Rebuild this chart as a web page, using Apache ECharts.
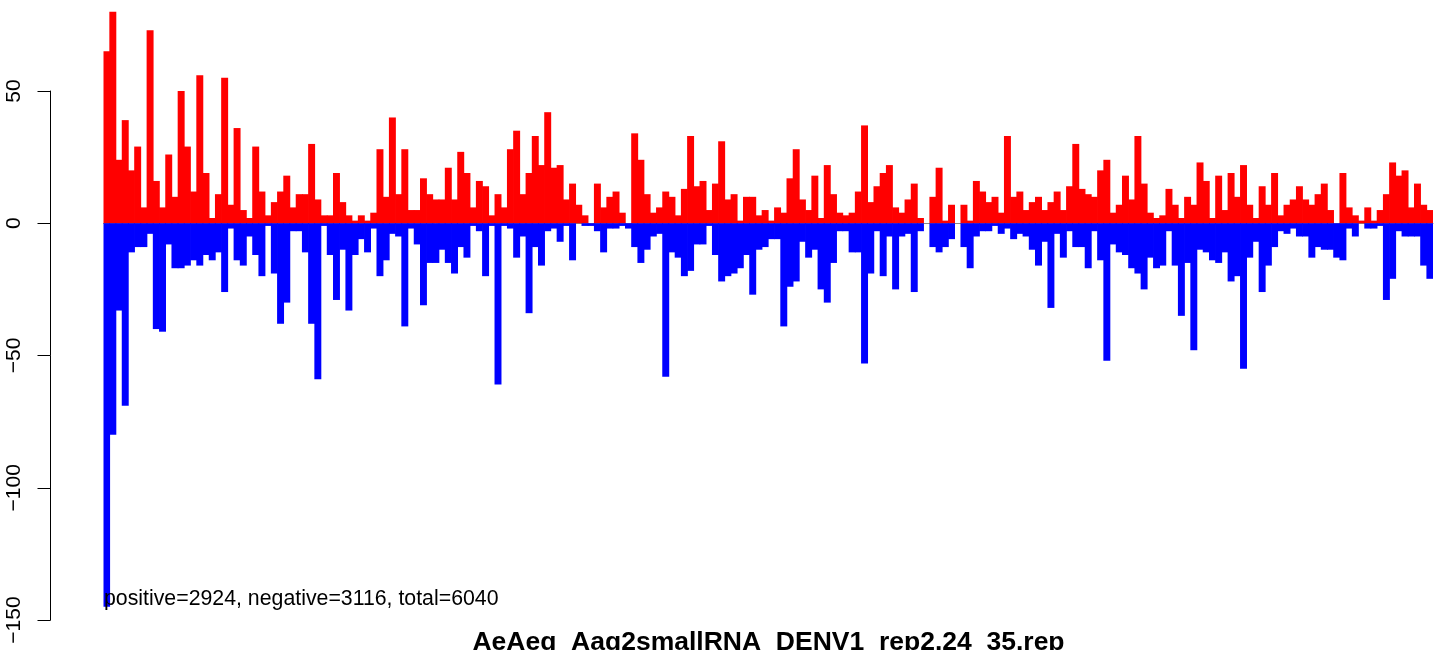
<!doctype html>
<html>
<head>
    <meta charset="utf-8">
    <title>AeAeg_Aag2smallRNA_DENV1_rep2.24_35.rep</title>
    <style>
        html, body { margin: 0; padding: 0; background: #fff; }
        #Chart { width: 1449px; height: 650px; }
    </style>
</head>
<body>
    <div id="Chart"></div>
</body>
</html>
<script src="https://cdn.jsdelivr.net/npm/echarts@6/dist/echarts.min.js"></script>
<script>
    // reads per bin, sense strand (red) and antisense strand (blue)
    var positive = [65, 80, 24, 39, 20, 29, 6, 73, 16, 6,
        26, 10, 50, 29, 12, 56, 19, 2, 11, 55,
        7, 36, 5, 2, 29, 12, 3, 8, 12, 18,
        6, 11, 11, 30, 9, 3, 3, 19, 8, 3,
        1, 3, 1, 4, 28, 10, 40, 11, 28, 5,
        5, 17, 11, 9, 9, 21, 9, 27, 19, 6,
        16, 14, 3, 11, 6, 28, 35, 11, 19, 33,
        22, 42, 21, 22, 9, 15, 7, 3, 0, 15,
        6, 10, 12, 4, 0, 34, 24, 11, 4, 6,
        12, 10, 3, 13, 33, 14, 16, 5, 15, 31,
        9, 11, 1, 10, 10, 3, 5, 1, 6, 4,
        17, 28, 9, 5, 18, 2, 22, 11, 4, 3,
        4, 12, 37, 8, 14, 19, 22, 6, 4, 9,
        15, 2, 0, 10, 21, 1, 7, 0, 7, 1,
        16, 12, 8, 10, 4, 33, 10, 12, 5, 8,
        10, 5, 8, 12, 5, 14, 30, 13, 11, 10,
        20, 24, 4, 7, 18, 9, 33, 15, 4, 2,
        3, 13, 7, 2, 10, 7, 23, 16, 2, 18,
        5, 19, 10, 22, 7, 2, 14, 7, 19, 3,
        7, 9, 14, 9, 7, 11, 15, 5, 0, 19,
        6, 3, 1, 6, 1, 5, 11, 23, 18, 20,
        6, 15, 7, 5];

    var negative = [-145, -80, -33, -69, -11, -9, -9, -4, -40, -41,
        -8, -17, -17, -16, -14, -16, -12, -14, -11, -26,
        -2, -14, -16, -5, -12, -20, -1, -19, -38, -30,
        -3, -3, -11, -38, -59, -1, -12, -29, -10, -33,
        -12, -6, -11, -2, -20, -14, -4, -5, -39, -2,
        -8, -31, -15, -15, -10, -15, -19, -9, -13, -1,
        -3, -20, -1, -61, -1, -2, -13, -5, -34, -9,
        -16, -3, -2, -7, -1, -14, 0, -1, -1, -3,
        -11, -2, -2, -1, -2, -9, -15, -10, -5, -4,
        -58, -11, -13, -20, -18, -8, -8, -1, -12, -22,
        -20, -19, -17, -12, -27, -10, -9, -6, -6, -39,
        -24, -22, -7, -13, -10, -25, -30, -15, -3, -3,
        -11, -11, -53, -19, -3, -20, -5, -25, -5, -4,
        -26, -3, 0, -9, -11, -9, -6, 0, -9, -17,
        -5, -3, -3, -1, -4, -2, -6, -4, -5, -10,
        -16, -7, -32, -4, -13, -3, -9, -9, -17, -3,
        -14, -52, -8, -11, -12, -17, -19, -25, -13, -17,
        -16, -3, -16, -35, -15, -48, -10, -11, -14, -15,
        -11, -22, -20, -55, -13, -7, -26, -16, -9, -3,
        -4, -2, -5, -5, -13, -9, -10, -10, -13, -14,
        -2, -5, 0, -2, -2, -1, -29, -21, -3, -5,
        -5, -5, -16, -21];

    var yTicks = [-150, -100, -50, 0, 50];
    var plotTitle = 'AeAeg_Aag2smallRNA_DENV1_rep2.24_35.rep';
    var summary = 'positive=2924, negative=3116, total=6040';

    var bins = [];
    for (var i = 0; i < positive.length; i++) {
        bins.push(i + 1);
    }

    var font = 'Liberation Sans, Arial, Helvetica, sans-serif';

    function BuildBars() {
        var myChart = echarts.init(document.getElementById('Chart'), null, { renderer: 'canvas' });
        var option = {
            animation: false,
            backgroundColor: '#fff',
            grid: [
                // bar area
                { left: 103.5, right: 16, top: 1.1, bottom: 30 },
                // axis only: spans the tick range like R's axis()
                { left: 50.5, width: 1, top: 91, bottom: 30 }
            ],
            xAxis: [
                {
                    gridIndex: 0,
                    type: 'category',
                    data: bins,
                    boundaryGap: true,
                    axisLine: { show: true, onZero: true, lineStyle: { color: '#888', width: 1 } },
                    axisTick: { show: false },
                    axisLabel: { show: false },
                    splitLine: { show: false }
                },
                {
                    gridIndex: 1,
                    type: 'value',
                    show: false
                }
            ],
            yAxis: [
                {
                    gridIndex: 0,
                    type: 'value',
                    min: -150,
                    max: 84,
                    show: false,
                    splitLine: { show: false }
                },
                {
                    gridIndex: 1,
                    type: 'value',
                    min: yTicks[0],
                    max: yTicks[yTicks.length - 1],
                    interval: 50,
                    axisLine: { show: true, lineStyle: { color: '#000', width: 1 } },
                    axisTick: { show: true, length: 13, inside: false, lineStyle: { color: '#000', width: 1 } },
                    axisLabel: {
                        show: true,
                        rotate: 90,
                        margin: 26,
                        color: '#000',
                        fontSize: 21,
                        fontFamily: font,
                        formatter: function (v) {
                            return String(v).replace('-', '\u2212');
                        }
                    },
                    splitLine: { show: false }
                }
            ],
            series: [
                {
                    name: 'positive',
                    type: 'bar',
                    xAxisIndex: 0,
                    yAxisIndex: 0,
                    barWidth: '112%',
                    barGap: '-100%',
                    itemStyle: { color: '#ff0000' },
                    data: positive
                },
                {
                    name: 'negative',
                    type: 'bar',
                    xAxisIndex: 0,
                    yAxisIndex: 0,
                    barWidth: '112%',
                    barGap: '-100%',
                    itemStyle: { color: '#0000ff' },
                    data: negative
                }
            ],
            graphic: [
                {
                    type: 'text',
                    z: 100,
                    style: {
                        x: 104,
                        y: 599,
                        text: summary,
                        fill: '#000',
                        font: '21.3px ' + font,
                        textAlign: 'left',
                        textVerticalAlign: 'middle'
                    }
                },
                {
                    type: 'text',
                    z: 100,
                    style: {
                        x: 768.5,
                        y: 643,
                        text: plotTitle,
                        fill: '#000',
                        font: 'bold 26.5px ' + font,
                        textAlign: 'center',
                        textVerticalAlign: 'middle'
                    }
                }
            ]
        };
        myChart.setOption(option);
    }

    BuildBars();
</script>
